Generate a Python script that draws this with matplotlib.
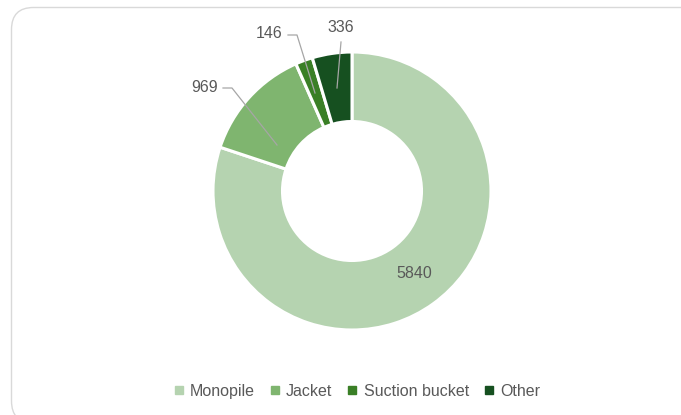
import matplotlib
matplotlib.use("Agg")
import matplotlib.pyplot as plt
from matplotlib.patches import FancyBboxPatch
from matplotlib.lines import Line2D
from matplotlib.transforms import IdentityTransform

categories = ["Monopile", "Jacket", "Suction bucket", "Other"]
values = [5840, 969, 146, 336]
colors = ["#B5D3B0", "#7FB56F", "#3A7F26", "#165020"]

W, H = 681, 415
fig = plt.figure(figsize=(W / 100, H / 100), dpi=100)
fig.patch.set_facecolor("white")

# chart frame (pixel coordinates)
frame = FancyBboxPatch((11.5, -8), 720, H - 7.5 + 8,
                       boxstyle="round,pad=0,rounding_size=22",
                       transform=IdentityTransform(), facecolor="none",
                       edgecolor="#D9D9D9", linewidth=1.0, zorder=-1)
fig.patches.append(frame)

ax = fig.add_axes([0, 0, 1, 1])
ax.set_facecolor("none")

cx, cy = 352, H - 191
R = 139
wedges, _ = ax.pie(values, colors=colors, startangle=90, counterclock=False,
                   center=(cx, cy), radius=R,
                   wedgeprops=dict(width=R * 0.5, edgecolor="white", linewidth=2.2))
ax.set_xlim(0, W)
ax.set_ylim(0, H)
ax.set_aspect("equal")
ax.axis("off")

tc = "#595959"
fs = 11.5
fam = "Liberation Sans"

def Y(y):
    return H - y

# 5840 inside
ax.text(414, Y(273), f"{values[0]}", ha="center", va="center", fontsize=fs, color=tc, family=fam)

# 969
ax.text(205, Y(88), f"{values[1]}", ha="center", va="center", fontsize=fs, color=tc, family=fam)
ax.add_line(Line2D([223, 232, 277], [Y(88), Y(88), Y(145)], color="#A6A6A6", lw=0.9))

# 146
ax.text(269, Y(34), f"{values[2]}", ha="center", va="center", fontsize=fs, color=tc, family=fam)
ax.add_line(Line2D([288, 297, 315], [Y(35), Y(35), Y(93)], color="#A6A6A6", lw=0.9))

# 336
ax.text(341, Y(28), f"{values[3]}", ha="center", va="center", fontsize=fs, color=tc, family=fam)
ax.add_line(Line2D([341, 337], [Y(42), Y(88)], color="#A6A6A6", lw=0.9))

handles = [Line2D([], [], marker="s", linestyle="none", markersize=6,
                  markerfacecolor=c, markeredgecolor=c) for c in colors]
leg = fig.legend(handles, categories, loc="center", bbox_to_anchor=(357 / W, 1 - 391 / H),
                 ncol=4, frameon=False, handlelength=0.6, handletextpad=0.4,
                 columnspacing=0.95, prop=dict(family=fam, size=fs))
for t in leg.get_texts():
    t.set_color(tc)

fig.savefig("out.png", dpi=100, facecolor="white")
